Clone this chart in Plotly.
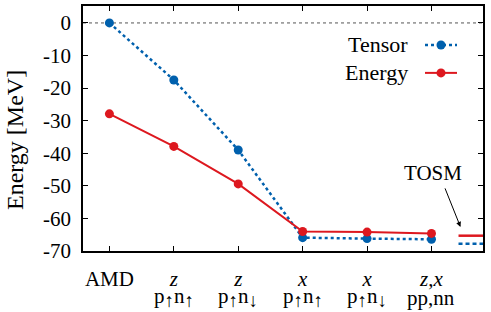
import plotly.graph_objects as go

categories = ["AMD", "z p↑n↑", "z p↑n↓", "x p↑n↑", "x p↑n↓", "z,x pp,nn"]
UP = '<sub><span style="font-size:19px">↑</span></sub>'
DN = '<sub><span style="font-size:19px">↓</span></sub>'
tick_top = ["AMD", "<i>z</i>", "<i>z</i>", "<i>x</i>", "<i>x</i>", "<i>z</i>,<i>x</i>"]
tick_bottom = ["", "p" + UP + "n" + UP, "p" + UP + "n" + DN, "p" + UP + "n" + UP,
               "p" + UP + "n" + DN, "pp,nn"]
tensor = [0.0, -17.5, -39.0, -65.9, -66.2, -66.4]
energy = [-27.9, -37.9, -49.4, -64.0, -64.2, -64.6]
tosm_energy = -65.3
tosm_tensor = -67.8
y_ticks = [0, -10, -20, -30, -40, -50, -60, -70]

BLUE = "#0060ad"
RED = "#dd181f"
FONT = "Liberation Serif, Times New Roman, serif"

x_idx = list(range(len(categories)))

fig = go.Figure()
fig.add_trace(go.Scatter(x=x_idx, y=tensor, mode="lines+markers", name="Tensor",
                         line=dict(color=BLUE, width=2.5, dash="3px,3px"),
                         marker=dict(color=BLUE, size=9), showlegend=False))
fig.add_trace(go.Scatter(x=x_idx, y=energy, mode="lines+markers", name="Energy",
                         line=dict(color=RED, width=2),
                         marker=dict(color=RED, size=9), showlegend=False))

shapes = []
shapes.append(dict(type="line", xref="paper", x0=0, x1=1, yref="y", y0=0, y1=0,
                   line=dict(color="#555555", width=1, dash="dot"), layer="below"))
shapes.append(dict(type="line", xref="x", x0=5.42, x1=5.8, yref="y", y0=tosm_energy, y1=tosm_energy,
                   line=dict(color=RED, width=2.5)))
shapes.append(dict(type="line", xref="x", x0=5.42, x1=5.8, yref="y", y0=tosm_tensor, y1=tosm_tensor,
                   line=dict(color=BLUE, width=2.5, dash="4px,3px")))

leg = [("Tensor", BLUE, "3px,3px", 0.841), ("Energy", RED, "solid", 0.727)]
annotations = []
for name, col, dash, yy in leg:
    annotations.append(dict(x=0.8175, y=yy, xref="paper", yref="paper", text=name, showarrow=False,
                            xanchor="right", yanchor="middle", font=dict(family=FONT, size=22, color="black")))
    shapes.append(dict(type="line", xref="paper", yref="paper", x0=0.855, x1=0.935, y0=yy, y1=yy,
                       line=dict(color=col, width=2.5 if dash != "solid" else 2, dash=dash)))
    shapes.append(dict(type="circle", xref="paper", yref="paper", xsizemode="pixel", ysizemode="pixel",
                       xanchor=0.895, yanchor=yy, x0=-4.5, x1=4.5, y0=-4.5, y1=4.5,
                       fillcolor=col, line=dict(color=col, width=0)))

# second line of category labels
for xi, txt in zip(x_idx, tick_bottom):
    if txt:
        annotations.append(dict(x=xi, y=-0.19, xref="x", yref="paper", text=txt, showarrow=False,
                                xanchor="center", yanchor="middle",
                                font=dict(family=FONT, size=21, color="black")))

# y-axis title
annotations.append(dict(x=-0.17, y=0.453, xref="paper", yref="paper", text="Energy [MeV]",
                        textangle=-90, showarrow=False, xanchor="center", yanchor="middle",
                        font=dict(family=FONT, size=24, color="black")))

# TOSM label and arrow
annotations.append(dict(x=5.02, y=-46.0, xref="x", yref="y", text="TOSM", showarrow=False,
                        xanchor="center", yanchor="middle", font=dict(family=FONT, size=21, color="black")))
annotations.append(dict(x=5.45, y=-62.6, xref="x", yref="y", ax=-16, ay=-40, axref="pixel", ayref="pixel",
                        text="", showarrow=True, arrowhead=2, arrowsize=1, arrowwidth=1,
                        arrowcolor="black"))

fig.update_layout(
    width=491, height=312,
    margin=dict(l=83, r=8, t=6, b=61, autoexpand=False),
    plot_bgcolor="white", paper_bgcolor="white",
    font=dict(family=FONT, size=21, color="black"),
    shapes=shapes, annotations=annotations,
    showlegend=False,
)
fig.update_xaxes(range=[-0.41, 5.8], tickmode="array", tickvals=x_idx, ticktext=tick_top,
                 ticks="inside", ticklen=5, tickcolor="black", showline=True, linecolor="black",
                 linewidth=1.5, mirror="ticks", showgrid=False, zeroline=False, automargin=False,
                 tickfont=dict(family=FONT, size=21), ticklabelstandoff=8)
fig.update_yaxes(range=[-70, 5.2], tickmode="array", tickvals=y_ticks,
                 ticktext=[str(v) for v in y_ticks],
                 ticks="inside", ticklen=5, tickcolor="black", showline=True, linecolor="black",
                 linewidth=1.5, mirror="ticks", showgrid=False, zeroline=False, automargin=False,
                 tickfont=dict(family=FONT, size=21), ticklabelstandoff=6)

fig.write_html("out.html", config={"displayModeBar": False},
               post_script="document.body.style.margin='0';")
